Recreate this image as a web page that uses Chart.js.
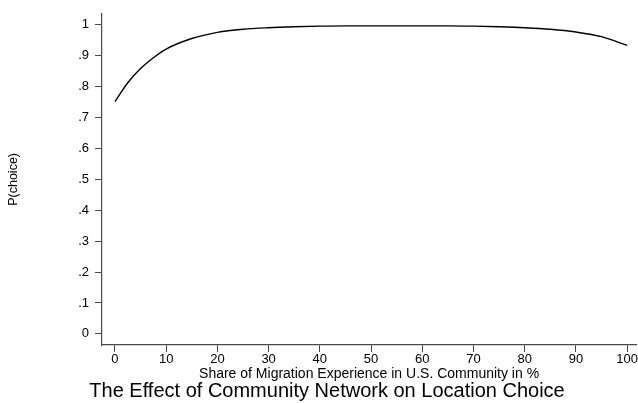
<!DOCTYPE html>
<html>
<head>
<meta charset="utf-8">
<script src="https://cdn.jsdelivr.net/npm/chart.js@4/dist/chart.umd.min.js"></script>
<style>
  html, body { margin: 0; padding: 0; background: #fff; }
  #wrap { width: 638px; height: 403px; }
</style>
</head>
<body>
<div id="wrap"><canvas id="chart"></canvas></div>
<script>
// share of migration experience (%) and predicted probability
const shares = [0, 2.5, 5, 7.5, 10, 15, 20, 25, 30, 35, 40, 45, 50, 55, 60, 65, 70, 75, 80, 85, 90, 95, 100];
const probs = [0.751, 0.812, 0.858, 0.893, 0.921, 0.955, 0.975, 0.985, 0.990, 0.993, 0.995, 0.996, 0.996, 0.996, 0.996, 0.996, 0.995, 0.993, 0.990, 0.985, 0.976, 0.961, 0.933];

const xTicks = [0, 10, 20, 30, 40, 50, 60, 70, 80, 90, 100];
const yTicks = [0, 0.1, 0.2, 0.3, 0.4, 0.5, 0.6, 0.7, 0.8, 0.9, 1];
const yTickLabels = ['0', '.1', '.2', '.3', '.4', '.5', '.6', '.7', '.8', '.9', '1'];

const axisColor = '#4a4a4a';
const fontFamily = 'Arial, "Liberation Sans", Helvetica, sans-serif';

const points = shares.map((s, i) => ({ x: s, y: probs[i] }));

new Chart(document.getElementById('chart'), {
  type: 'line',
  data: {
    datasets: [{
      data: points,
      borderColor: '#000',
      borderWidth: 1.4,
      pointRadius: 0,
      fill: false,
      cubicInterpolationMode: 'monotone'
    }]
  },
  options: {
    responsive: true,
    maintainAspectRatio: false,
    animation: false,
    layout: { padding: { top: 2, right: 0, bottom: 0, left: 16 } },
    plugins: {
      legend: { display: false },
      tooltip: { enabled: false },
      title: {
        display: true,
        position: 'bottom',
        text: 'The Effect of Community Network on Location Choice',
        color: '#000',
        font: { family: fontFamily, size: 20, weight: 'normal', lineHeight: 1.2 },
        padding: { top: 0, bottom: 0 }
      }
    },
    scales: {
      x: {
        type: 'linear',
        min: -2.53,
        max: 101.75,
        afterBuildTicks: s => { s.ticks = xTicks.map(v => ({ value: v })); },
        afterFit: s => { s.height = 34; },
        grid: { drawOnChartArea: false, drawTicks: true, tickLength: 7, color: axisColor, lineWidth: 1 },
        border: { color: axisColor, width: 1.2 },
        ticks: {
          color: '#000',
          padding: 0,
          maxRotation: 0,
          autoSkip: false,
          font: { family: fontFamily, size: 13 }
        },
        title: {
          display: true,
          text: 'Share of Migration Experience in U.S. Community in %',
          color: '#000',
          font: { family: fontFamily, size: 14, lineHeight: 1 },
          padding: { top: 0, bottom: -2 }
        }
      },
      y: {
        min: -0.036,
        max: 1.035,
        afterBuildTicks: s => { s.ticks = yTicks.map(v => ({ value: v })); },
        afterFit: s => { s.width = 86; },
        grid: { drawOnChartArea: false, drawTicks: true, tickLength: 7, color: axisColor, lineWidth: 1 },
        border: { color: axisColor, width: 1.2 },
        ticks: {
          color: '#000',
          padding: 6,
          autoSkip: false,
          font: { family: fontFamily, size: 13 },
          callback: (v) => {
            const i = yTicks.findIndex(t => Math.abs(t - v) < 1e-9);
            return i >= 0 ? yTickLabels[i] : '';
          }
        },
        title: {
          display: true,
          text: 'P(choice)',
          color: '#000',
          font: { family: fontFamily, size: 12.5, lineHeight: 1.2 },
          padding: { top: -10, bottom: 0 }
        }
      }
    }
  }
});
</script>
</body>
</html>
